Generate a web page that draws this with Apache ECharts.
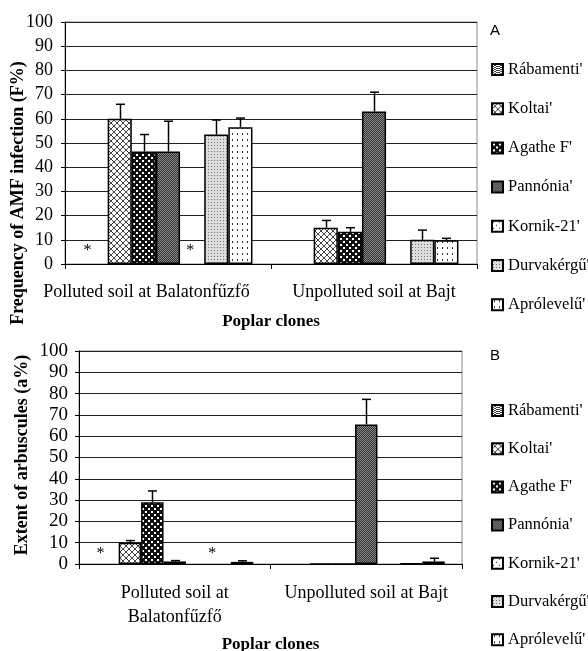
<!DOCTYPE html>
<html>
<head>
<meta charset="utf-8">
<script src="https://cdn.jsdelivr.net/npm/echarts@6/dist/echarts.min.js"></script>
<style>
html,body{margin:0;padding:0;background:#fff;}
#chart{width:588px;height:651px;}
</style>
</head>
<body>
<div id="chart"></div>
<script>
// ---------- DATA ----------
var categoriesA = ['Polluted soil at Balatonfűzfő', 'Unpolluted soil at Bajt'];
var categoriesB = ['Polluted soil at\nBalatonfűzfő', 'Unpolluted soil at Bajt'];
var clones = ["Rábamenti'", "Koltai'", "Agathe F'", "Pannónia'", "Kornik-21'", "Durvakérgű'", "Aprólevelű'"];
var yTicks = [0, 10, 20, 30, 40, 50, 60, 70, 80, 90, 100];

// Frequency of AMF infection F% (null = not measured, '*' marks)
var freqRabamenti  = ['*', null];
var freqKoltai     = [60, 15];
var freqAgathe     = [46.5, 13.3];
var freqPannonia   = [46.5, 63];
var freqKornik     = ['*', null];
var freqDurvakergu = [53.5, 10];
var freqAprolevelu = [56.5, 9.8];

var freqErrKoltai     = [6, 3];
var freqErrAgathe     = [7, 1.7];
var freqErrPannonia   = [12.5, 8];
var freqErrDurvakergu = [6, 4];
var freqErrAprolevelu = [3.8, 0.8];

// Extent of arbuscules a%
var arbRabamenti  = ['*', null];
var arbKoltai     = [10, 0];
var arbAgathe     = [29, 0];
var arbPannonia   = [1.2, 65.5];
var arbKornik     = ['*', null];
var arbDurvakergu = [null, 0.3];
var arbAprolevelu = [1, 1.2];

var arbErrKoltai     = [1, 0];
var arbErrAgathe     = [5.3, 0];
var arbErrPannonia   = [0.4, 11.8];
var arbErrDurvakergu = [0, 0];
var arbErrAprolevelu = [0.5, 1.5];

// ---------- PATTERNS ----------
function mk(w, h, draw) {
  var c = document.createElement('canvas');
  c.width = w; c.height = h;
  var g = c.getContext('2d');
  draw(g);
  return { image: c, repeat: 'repeat' };
}
var patterns = [
  // Rábamenti: wavy gray
  mk(6, 4, function (g) {
    g.fillStyle = '#fff'; g.fillRect(0, 0, 6, 4);
    g.fillStyle = '#444';
    g.fillRect(0, 0, 2, 1); g.fillRect(2, 1, 2, 1); g.fillRect(4, 0, 2, 1);
    g.fillRect(0, 2, 2, 1); g.fillRect(2, 3, 2, 1); g.fillRect(4, 2, 2, 1);
  }),
  // Koltai: diagonal crosshatch (light)
  mk(6, 6, function (g) {
    g.fillStyle = '#fff'; g.fillRect(0, 0, 6, 6);
    g.fillStyle = '#444';
    for (var i = 0; i < 6; i++) { g.fillRect(i, i, 1, 1); g.fillRect(5 - i, i, 1, 1); }
  }),
  // Agathe F': dark with white dots
  mk(6, 6, function (g) {
    g.fillStyle = '#111'; g.fillRect(0, 0, 6, 6);
    g.fillStyle = '#fff';
    g.fillRect(1, 1, 2, 2); g.fillRect(4, 4, 2, 2);
  }),
  // Pannónia': dark gray fine checker
  mk(2, 2, function (g) {
    g.fillStyle = '#333'; g.fillRect(0, 0, 2, 2);
    g.fillStyle = '#888';
    g.fillRect(0, 0, 1, 1); g.fillRect(1, 1, 1, 1);
  }),
  // Kornik-21': sparse dots
  mk(6, 6, function (g) {
    g.fillStyle = '#fff'; g.fillRect(0, 0, 6, 6);
    g.fillStyle = '#333';
    g.fillRect(1, 1, 1, 1); g.fillRect(4, 4, 1, 1);
  }),
  // Durvakérgű': light gray fine dots
  mk(3, 3, function (g) {
    g.fillStyle = '#ddd'; g.fillRect(0, 0, 3, 3);
    g.fillStyle = '#777';
    g.fillRect(1, 1, 1, 1);
  }),
  // Aprólevelű': white with vertical dotted dashes
  mk(5, 6, function (g) {
    g.fillStyle = '#fff'; g.fillRect(0, 0, 5, 6);
    g.fillStyle = '#333';
    g.fillRect(2, 1, 1, 2);
  })
];

// ---------- BUILD ----------
var freqValues = [freqRabamenti, freqKoltai, freqAgathe, freqPannonia, freqKornik, freqDurvakergu, freqAprolevelu];
var freqErrors = [null, freqErrKoltai, freqErrAgathe, freqErrPannonia, null, freqErrDurvakergu, freqErrAprolevelu];
var arbValues = [arbRabamenti, arbKoltai, arbAgathe, arbPannonia, arbKornik, arbDurvakergu, arbAprolevelu];
var arbErrors = [null, arbErrKoltai, arbErrAgathe, arbErrPannonia, null, arbErrDurvakergu, arbErrAprolevelu];

var starOffsetsA = { 0: [-8, 0], 4: [-2, 0] };
var starOffsetsB = { 0: [-7, 0], 4: [15, 0] };
var GAP = 0.18;
var serif = '"Liberation Serif", "Times New Roman", serif';

function toData(arr, starOffsets, si, dist) {
  return arr.map(function (v) {
    if (v === '*') {
      return {
        value: 0,
        itemStyle: { color: 'transparent', borderWidth: 0 },
        label: { show: true, formatter: '*', position: 'top', distance: dist,
          offset: starOffsets[si], fontFamily: serif, fontSize: 16, color: '#000' }
      };
    }
    return v;
  });
}

var series = [];
function addBars(values, axisIdx, starOffsets, dist) {
  values.forEach(function (arr, si) {
    series.push({
      type: 'bar', name: clones[si], xAxisIndex: axisIdx, yAxisIndex: axisIdx,
      data: toData(arr, starOffsets, si, dist),
      barGap: 0, barCategoryGap: (GAP * 100) + '%',
      itemStyle: { color: patterns[si], borderColor: '#000', borderWidth: 1.5 },
      emphasis: { disabled: true },
      animation: false
    });
  });
}
function addErrors(values, errors, axisIdx) {
  var data = [];
  values.forEach(function (arr, si) {
    if (!errors[si]) return;
    arr.forEach(function (v, ci) {
      if (typeof v === 'number' && errors[si][ci] > 0) data.push([ci, si, v, errors[si][ci]]);
    });
  });
  series.push({
    type: 'custom', xAxisIndex: axisIdx, yAxisIndex: axisIdx, z: 5,
    encode: { x: 0, y: 2 }, silent: true, animation: false,
    renderItem: function (params, api) {
      var ci = api.value(0), si = api.value(1), v = api.value(2), e = api.value(3);
      var band = api.size([1, 0])[0];
      var bw = band * (1 - GAP) / 7;
      var p0 = api.coord([ci, v]);
      var p1 = api.coord([ci, v + e]);
      var x = Math.round(p0[0] + (si - 3) * bw) + 0.5;
      var st = { stroke: '#000', lineWidth: 1.5 };
      return {
        type: 'group', children: [
          { type: 'line', shape: { x1: x, y1: p0[1], x2: x, y2: p1[1] }, style: st },
          { type: 'line', shape: { x1: x - 4.5, y1: p1[1], x2: x + 4.5, y2: p1[1] }, style: st }
        ]
      };
    },
    data: data
  });
}
addBars(freqValues, 0, starOffsetsA, 5);
addErrors(freqValues, freqErrors, 0);
addBars(arbValues, 1, starOffsetsB, 2);
addErrors(arbValues, arbErrors, 1);

function xAxis(idx, cats, gap, margin, lh) {
  return {
    type: 'category', gridIndex: idx, data: cats,
    axisLine: { lineStyle: { color: '#000', width: 1 } },
    axisTick: { show: true, length: 5, lineStyle: { color: '#000' } },
    axisLabel: { fontFamily: serif, fontSize: 18, color: '#000', margin: margin, lineHeight: lh, interval: 0 },
    name: 'Poplar clones', nameLocation: 'middle', nameGap: gap,
    nameTextStyle: { fontFamily: serif, fontSize: 17, fontWeight: 'bold', color: '#000' }
  };
}
function yAxis(idx, margin, fs) {
  return {
    type: 'value', gridIndex: idx, min: yTicks[0], max: yTicks[yTicks.length - 1], interval: 10,
    axisLine: { show: true, lineStyle: { color: '#000', width: 1 } },
    axisTick: { show: true, length: 4, lineStyle: { color: '#000' } },
    axisLabel: { fontFamily: serif, fontSize: fs, color: '#000', margin: margin },
    splitLine: { show: true, lineStyle: { color: '#222', width: 1 } }
  };
}

var xA = xAxis(0, categoriesA, 49, 17, 22);
// first top label sits left of its group centre in the original
xA.data = [
  { value: categoriesA[0], textStyle: { padding: [0, 43, 0, 0] } },
  categoriesA[1]
];

var chart = echarts.init(document.getElementById('chart'), null, { renderer: 'canvas' });
chart.setOption({
  backgroundColor: '#fff',
  animation: false,
  title: [
    { text: 'A', left: 490, top: 23, padding: 0, textStyle: { fontFamily: '"Liberation Sans", Arial, sans-serif', fontSize: 15, fontWeight: 'normal', color: '#000' } },
    { text: 'B', left: 490, top: 348, padding: 0, textStyle: { fontFamily: '"Liberation Sans", Arial, sans-serif', fontSize: 15, fontWeight: 'normal', color: '#000' } }
  ],
  grid: [
    { left: 65, right: 111, top: 22, bottom: 387, show: true, borderColor: '#888', borderWidth: 1, containLabel: false, outerBoundsMode: 'none' },
    { left: 79, right: 126, top: 351, bottom: 87, show: true, borderColor: '#888', borderWidth: 1, containLabel: false, outerBoundsMode: 'none' }
  ],
  legend: [
    { data: clones, orient: 'vertical', left: 491, top: 61, height: 270, padding: 0, itemGap: 22.2, itemWidth: 11, itemHeight: 11,
      icon: 'rect', selectedMode: false,
      textStyle: { fontFamily: serif, fontSize: 16.5, color: '#000', lineHeight: 16 } },
    { data: clones, orient: 'vertical', left: 491, top: 402, height: 270, padding: 0, itemGap: 21.2, itemWidth: 11, itemHeight: 11,
      icon: 'rect', selectedMode: false,
      textStyle: { fontFamily: serif, fontSize: 16.5, color: '#000', lineHeight: 16 } }
  ],
  graphic: [
    { type: 'text', x: 18, y: 193, rotation: Math.PI / 2,
      style: { text: 'Frequency of AMF infection (F%)', font: 'bold 18px ' + serif, fill: '#000', align: 'center', verticalAlign: 'middle' } },
    { type: 'text', x: 22, y: 455, rotation: Math.PI / 2,
      style: { text: 'Extent of arbuscules (a%)', font: 'bold 18px ' + serif, fill: '#000', align: 'center', verticalAlign: 'middle' } }
  ],
  xAxis: [xA, xAxis(1, categoriesB, 72.5, 17, 24)],
  yAxis: [yAxis(0, 12, 18), yAxis(1, 11, 19)],
  series: series
});
</script>
</body>
</html>
